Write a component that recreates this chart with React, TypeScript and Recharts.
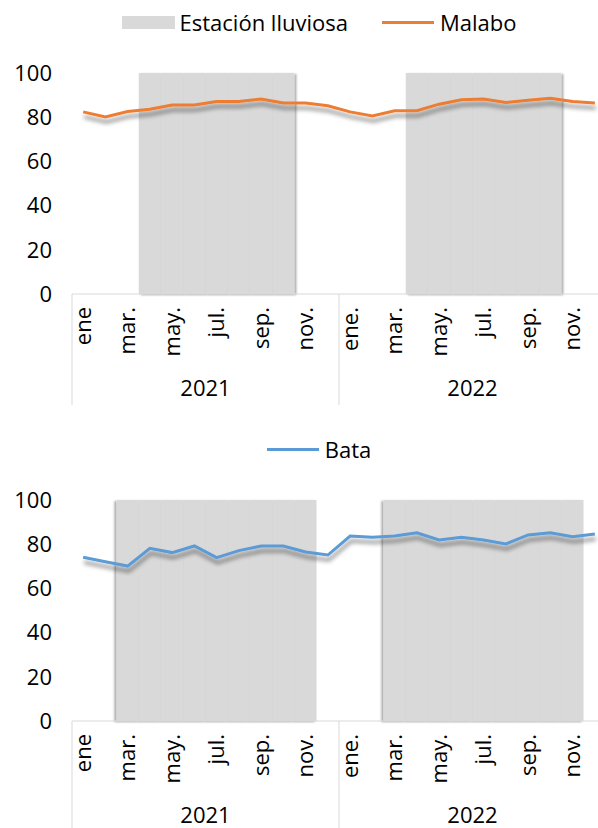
import { ComposedChart, Bar, Line, XAxis, YAxis, Legend } from "recharts";

const months = [
  "ene", "feb.", "mar.", "abr.", "may.", "jun.", "jul.", "ago.", "sep.", "oct.", "nov.", "dic.",
  "ene.", "feb.", "mar.", "abr.", "may.", "jun.", "jul.", "ago.", "sep.", "oct.", "nov.", "dic.",
];
const years = [
  2021, 2021, 2021, 2021, 2021, 2021, 2021, 2021, 2021, 2021, 2021, 2021,
  2022, 2022, 2022, 2022, 2022, 2022, 2022, 2022, 2022, 2022, 2022, 2022,
];
const malabo = [
  82.4, 80.1, 82.6, 83.6, 85.5, 85.5, 87.1, 87.1, 88.2, 86.4, 86.4, 85.2,
  82.4, 80.6, 82.9, 82.9, 85.9, 87.9, 88.2, 86.7, 87.7, 88.6, 87.1, 86.4,
];
const bata = [
  74.1, 72.1, 70.1, 78.1, 76.2, 79.2, 73.9, 77.1, 79.2, 79.2, 76.5, 75.1,
  83.7, 83.1, 83.7, 85.2, 81.9, 83.1, 81.9, 80.1, 84.2, 85.2, 83.4, 84.6,
];
// estación lluviosa: abr.–oct. en Malabo, mar.–nov. en Bata
const malaboRain = [
  null, null, null, 100, 100, 100, 100, 100, 100, 100, null, null,
  null, null, null, 100, 100, 100, 100, 100, 100, 100, null, null,
];
const bataRain = [
  null, null, 100, 100, 100, 100, 100, 100, 100, 100, 100, null,
  null, null, 100, 100, 100, 100, 100, 100, 100, 100, 100, null,
];
const yTicks = [0, 20, 40, 60, 80, 100];

const W = 606;
const H = 427;
const Y_W = 72;
const MONTH_H = 70;
const YEAR_H = 41;
const BAND = (W - Y_W) / months.length;
const FONT = 22;

function MonthTick({ x, y, payload }: any) {
  return (
    <text
      x={0}
      y={0}
      dy="0.35em"
      transform={`translate(${x},${y + 13}) rotate(-90)`}
      textAnchor="end"
      fontSize={FONT}
      fill="#000"
    >
      {payload.value}
    </text>
  );
}

function YearTick({ x, y, payload, index }: any) {
  const i = payload?.index ?? index;
  const parts = [];
  if (i % 12 === 0) {
    parts.push(
      <line key="s" x1={x - BAND / 2} x2={x - BAND / 2} y1={y - MONTH_H} y2={y + YEAR_H} stroke="#d9d9d9" />
    );
  }
  if (i === months.length - 1) {
    parts.push(
      <line key="e" x1={x + BAND / 2} x2={x + BAND / 2} y1={y - MONTH_H} y2={y + YEAR_H} stroke="#d9d9d9" />
    );
  }
  if (i % 12 === 6) {
    parts.push(
      <text key="t" x={x - BAND / 2} y={y + 32} textAnchor="middle" fontSize={FONT} fill="#000">
        {payload.value}
      </text>
    );
  }
  return <g>{parts}</g>;
}

function LegendBox({ payload }: any) {
  const items = (payload || []).filter((p: any) => p.type !== "none");
  return (
    <div style={{ display: "flex", justifyContent: "center", alignItems: "center", gap: 34, fontSize: FONT, lineHeight: "28px", color: "#000" }}>
      {items.map((p: any) => (
        <div key={p.value} style={{ display: "flex", alignItems: "center" }}>
          {p.type === "rect" ? (
            <span style={{ display: "inline-block", width: 53, height: 13, background: p.color }} />
          ) : (
            <span style={{ display: "inline-block", width: 52, height: 3, background: p.color }} />
          )}
          <span style={{ marginLeft: p.type === "rect" ? 5 : 6 }}>{p.value}</span>
        </div>
      ))}
    </div>
  );
}

function Panel({ id, name, values, rain, color, barDx }: any) {
  const rows = months.map((m, i) => ({ month: m, year: years[i], value: values[i], rain: rain[i] }));
  return (
    <div className={id} style={{ width: W, height: H }}>
      <style>{`.${id} .recharts-bar-rectangles{filter:url(#${id}-bar)}.${id} .recharts-line{filter:url(#${id}-line)}`}</style>
      <ComposedChart width={W} height={H} data={rows} barCategoryGap={0} margin={{ top: 73, right: 0, bottom: 22, left: 0 }}>
        <defs>
          <filter id={`${id}-line`} x="-5%" y="-50%" width="110%" height="200%">
            <feDropShadow dx="1" dy="5" stdDeviation="2" floodColor="#000" floodOpacity="0.45" />
          </filter>
          <filter id={`${id}-bar`} x="-5%" y="-5%" width="110%" height="110%">
            <feDropShadow dx={barDx} dy="1" stdDeviation="1.2" floodColor="#000" floodOpacity="0.35" />
          </filter>
        </defs>
        <Legend
          verticalAlign="middle"
          align="center"
          content={<LegendBox />}
          wrapperStyle={{ top: 8, left: 0, width: 638 }}
        />
        <XAxis
          xAxisId="m"
          dataKey="month"
          interval={1}
          height={MONTH_H}
          tickLine={false}
          tickSize={0}
          tickMargin={0}
          axisLine={{ stroke: "#d9d9d9" }}
          tick={<MonthTick />}
        />
        <XAxis
          xAxisId="y"
          dataKey="year"
          interval={0}
          height={YEAR_H}
          tickLine={false}
          tickSize={0}
          tickMargin={0}
          axisLine={false}
          tick={<YearTick />}
        />
        <YAxis
          domain={[0, 100]}
          ticks={yTicks}
          width={Y_W}
          axisLine={false}
          tickLine={false}
          tickSize={0}
          tickMargin={20}
          tick={{ fill: "#000", fontSize: FONT }}
        />
        <Bar
          xAxisId="m"
          dataKey="rain"
          name="Estación lluviosa"
          fill="#d9d9d9"
          legendType={name === "Malabo" ? "rect" : "none"}
          isAnimationActive={false}
        />
        <Line
          xAxisId="m"
          dataKey="value"
          name={name}
          stroke={color}
          strokeWidth={3}
          dot={false}
          activeDot={false}
          isAnimationActive={false}
        />
      </ComposedChart>
    </div>
  );
}

export default function App() {
  return (
    <div
      style={{
        position: "absolute",
        left: 0,
        top: 0,
        width: 598,
        height: 828,
        overflow: "hidden",
        background: "#fff",
        fontFamily: "'Open Sans', 'Noto Sans', sans-serif",
      }}
    >
      <Panel id="mal" name="Malabo" values={malabo} rain={malaboRain} color="#ed7d31" barDx={2} />
      <Panel id="bat" name="Bata" values={bata} rain={bataRain} color="#5b9bd5" barDx={-2} />
    </div>
  );
}
